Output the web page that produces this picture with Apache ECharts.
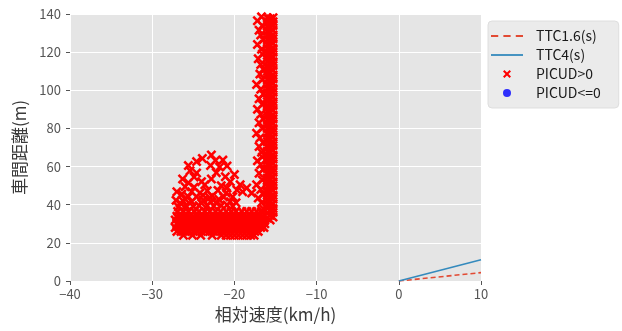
<!DOCTYPE html>
<html>
<head>
<meta charset="utf-8">
<script src="https://cdn.jsdelivr.net/npm/echarts@6/dist/echarts.min.js"></script>
<style>
  html, body { margin: 0; padding: 0; background: #fff; }
  #chart { width: 622px; height: 331px; }
</style>
</head>
<body>
<div id="chart"></div>
<script>
// Axis ticks
const xTicks = [-40, -30, -20, -10, 0, 10];
const yTicks = [0, 20, 40, 60, 80, 100, 120, 140];

// Time-to-collision reference lines: [relative speed km/h, distance m]
const ttc16 = [[0, 0], [10, 4.4]];
const ttc4 = [[0, 0], [10, 11.1]];

// PICUD>0 samples: vertical stem, one column per relative speed
const stemCols = [
  [-15.3, [33.5, 36, 38, 40.5, 43, 45, 47.5, 50, 52, 54.5, 57, 59, 61.5, 64, 66, 68.5, 71, 73, 75.5, 78, 80, 82.5, 85, 87, 89.5, 92, 94, 96.5, 99, 101, 103.5, 106, 108, 110.5, 113, 115, 117.5, 120, 122, 124.5, 127, 129, 131.5, 134, 136, 138]],
  [-15.65, [32, 34.5, 37, 39.5, 41.5, 44, 46.5, 49, 51, 53.5, 56, 58, 60.5, 63, 65, 67.5, 70, 72, 74.5, 77, 79, 81.5, 84, 86, 88.5, 91, 93, 95.5, 98, 100, 102.5, 105, 107, 109.5, 112, 114, 116.5, 119, 121, 123.5, 126, 128, 130.5, 133, 135, 137.5]],
  [-16.0, [33, 35.5, 38, 40, 42.5, 45, 47, 49.5, 52, 54, 56.5, 59, 61, 63.5, 66, 68, 70.5, 73, 75, 77.5, 80, 82, 84.5, 87, 89, 91.5, 94, 96, 98.5, 101, 103, 105.5, 108, 110, 112.5, 115, 117, 119.5, 122, 124, 126.5, 129, 131, 133.5, 136, 138]]
];

// Ragged left edge of the stem
const stemEdge = [
  [-16.5, 38], [-16.7, 41], [-17.1, 43.5], [-16.5, 45.5], [-16.8, 48], [-17.3, 50.5], [-16.6, 53], [-17.0, 56.5],
  [-16.5, 58.5], [-16.8, 61], [-17.2, 63], [-16.6, 65], [-16.7, 67.5], [-17.0, 70.5], [-16.5, 72.5], [-16.9, 75],
  [-17.3, 77.5], [-16.6, 80], [-17.0, 83], [-16.5, 85], [-16.8, 87.5], [-17.2, 90], [-16.6, 92.5], [-17.0, 95.5],
  [-16.5, 98], [-16.8, 100.5], [-17.3, 103], [-16.6, 105.5], [-16.9, 108.5], [-16.5, 111], [-16.8, 113.5],
  [-17.1, 116.5], [-16.6, 119], [-16.7, 121.5], [-17.2, 124], [-16.5, 126.5], [-16.8, 129], [-17.0, 131.5],
  [-16.6, 134], [-17.2, 136.5], [-16.7, 138.5]
];

// Low-distance band, one row per distance
const baseRows = [
  [24, [-26.2, -25.1, -24.1, -22.7, -21.6, -21.0, -20.5, -20.0, -19.5, -19.0, -18.5, -18.0, -17.6]],
  [26, [-27.0, -26.5, -26.0, -25.5, -25.0, -24.5, -24.0, -23.5, -23.0, -22.5, -22.0, -21.5, -21.0, -20.5, -20.0, -19.5, -19.0, -18.5, -18.0, -17.5, -17.1]],
  [28, [-27.2, -26.7, -26.2, -25.7, -25.2, -24.7, -24.2, -23.7, -23.2, -22.7, -22.2, -21.7, -21.2, -20.7, -20.2, -19.7, -19.2, -18.7, -18.2, -17.7, -17.2, -16.8, -16.4]],
  [30, [-27.0, -26.5, -26.0, -25.5, -25.0, -24.5, -24.0, -23.5, -23.0, -22.5, -22.0, -21.5, -21.0, -20.5, -20.0, -19.5, -19.0, -18.5, -18.0, -17.5, -17.1, -16.7, -16.3]],
  [32, [-27.2, -26.7, -26.2, -25.7, -25.2, -24.7, -24.2, -23.7, -23.2, -22.7, -22.2, -21.7, -21.2, -20.7, -20.2, -19.7, -19.2, -18.7, -18.2, -17.7, -17.2, -16.7, -16.3]],
  [34, [-27.0, -26.5, -26.0, -25.5, -25.0, -24.5, -24.0, -23.5, -23.0, -22.5, -22.0, -21.5, -21.0, -20.5, -20.0, -19.5, -19.0, -18.5, -18.0, -17.5, -17.0, -16.6]],
  [36.5, [-26.9, -26.2, -25.6, -24.9, -24.3, -23.6, -23.0, -22.3, -21.7, -21.0, -20.4, -19.8, -19.1, -18.5, -17.9, -17.3, -16.7]]
];

// Scattered samples above the band
const clusterPts = [
  [-24.6, 62.6], [-22.8, 66.1], [-22.3, 63.2], [-21.4, 63.4], [-21.8, 59.8], [-20.9, 60.3], [-25.4, 57.8],
  [-24.6, 56.6], [-26.3, 53.5], [-24.0, 52.1], [-22.8, 53.5], [-21.1, 54.7], [-20.5, 52.1], [-26.0, 49.4],
  [-27.0, 46.8], [-26.4, 45.6], [-25.2, 46.8], [-24.2, 46.1], [-23.3, 47.3], [-22.7, 44.6], [-24.6, 44.2],
  [-20.9, 48.8], [-19.7, 47.7], [-20.2, 44.2], [-19.0, 46.8], [-18.5, 48.8], [-17.9, 46.1], [-19.8, 41.0],
  [-20.5, 41.6], [-20.9, 39.9], [-22.2, 40.9], [-23.8, 42.5], [-25.2, 41.6], [-26.6, 40.9], [-26.8, 38.8],
  [-25.9, 39.5], [-25.0, 39], [-24.3, 39.5], [-23.3, 39.5], [-22.5, 39.2], [-21.6, 39.5], [-20.2, 39.2],
  [-25.6, 60.5], [-23.6, 50.5], [-26.0, 43], [-25.6, 51.5], [-24.9, 54.5], [-22.2, 56.8], [-21.6, 50],
  [-22.0, 47.5], [-21.3, 44], [-23.0, 43.8], [-24.9, 49.2], [-27.1, 42.3], [-20.0, 55.8], [-19.3, 50.5],
  [-23.9, 64.2], [-22.9, 60.6], [-26.2, 41.8], [-24.0, 40.8], [-22.9, 41.5], [-21.9, 42.8], [-21.0, 46.2],
  [-25.6, 44.2], [-23.8, 45]
];

// PICUD<=0 samples (none in this run)
const safePts = [];

const picudPos = [];
stemCols.forEach(([x, ys]) => ys.forEach(y => picudPos.push([x, y])));
stemEdge.forEach(p => picudPos.push(p));
baseRows.forEach(([y, xs]) => xs.forEach(x => picudPos.push([x, y])));
clusterPts.forEach(p => picudPos.push(p));

// Marker and legend glyphs
const crossPath = 'path://M0,1.8L1.8,0L5,3.2L8.2,0L10,1.8L6.8,5L10,8.2L8.2,10L5,6.8L1.8,10L0,8.2L3.2,5Z';
const solidLineIcon = 'path://M0,0h32v1.8h-32z';
const dashedLineIcon = 'path://M0,0h7v1.8h-7zM12,0h7v1.8h-7zM24,0h7v1.8h-7z';
const fontFam = '"Noto Sans CJK JP", "Noto Sans", sans-serif';
const minus = v => (v < 0 ? '\u2212' + Math.abs(v) : String(v));

const chart = echarts.init(document.getElementById('chart'), null, { renderer: 'canvas' });
chart.setOption({
  backgroundColor: '#ffffff',
  animation: false,
  textStyle: { fontFamily: fontFam },
  grid: { left: 70, top: 14, width: 411, height: 267, show: true, backgroundColor: '#e5e5e5', borderWidth: 0 },
  legend: {
    orient: 'vertical',
    left: 488,
    top: 21,
    padding: [8, 18, 8, 3],
    backgroundColor: '#ebebeb',
    borderColor: '#dedede',
    borderWidth: 1,
    borderRadius: 4,
    itemWidth: 32,
    itemHeight: 8,
    itemGap: 5,
    textStyle: { fontFamily: fontFam, fontSize: 14, color: '#1a1a1a', padding: [0, 0, 0, 8] },
    data: [
      { name: 'TTC1.6(s)', icon: dashedLineIcon },
      { name: 'TTC4(s)', icon: solidLineIcon },
      { name: 'PICUD>0' },
      { name: 'PICUD<=0' }
    ]
  },
  xAxis: {
    type: 'value', min: -40, max: 10, interval: 10,
    name: '相対速度(km/h)', nameLocation: 'middle', nameGap: 19,
    nameTextStyle: { fontFamily: fontFam, fontSize: 17, color: '#3a3a3a' },
    axisLine: { show: false, onZero: false },
    axisTick: { show: true, length: 4, lineStyle: { color: '#555', width: 1 } },
    axisLabel: { color: '#555', fontSize: 13, margin: 7, formatter: v => (xTicks.includes(v) ? minus(v) : '') },
    splitLine: { show: true, lineStyle: { color: '#ffffff', width: 1 } }
  },
  yAxis: {
    type: 'value', min: 0, max: 140, interval: 20,
    name: '車間距離(m)', nameLocation: 'middle', nameGap: 40,
    nameTextStyle: { fontFamily: fontFam, fontSize: 17, color: '#3a3a3a' },
    axisLine: { show: false, onZero: false },
    axisTick: { show: true, length: 4, lineStyle: { color: '#555', width: 1 } },
    axisLabel: { color: '#555', fontSize: 13, margin: 9, formatter: v => (yTicks.includes(v) ? String(v) : '') },
    splitLine: { show: true, lineStyle: { color: '#ffffff', width: 1 } }
  },
  series: [
    {
      name: 'TTC1.6(s)', type: 'line', data: ttc16, symbol: 'none', z: 2,
      lineStyle: { color: '#E24A33', width: 1.6, type: [5, 3] },
      itemStyle: { color: '#E24A33' }
    },
    {
      name: 'TTC4(s)', type: 'line', data: ttc4, symbol: 'none', z: 2,
      lineStyle: { color: '#348ABD', width: 1.6 },
      itemStyle: { color: '#348ABD' }
    },
    {
      name: 'PICUD>0', type: 'scatter', data: picudPos, symbol: crossPath, symbolSize: 10, z: 3,
      itemStyle: { color: '#ff0000', opacity: 1 }
    },
    {
      name: 'PICUD<=0', type: 'scatter', data: safePts, symbol: 'circle', symbolSize: 7, z: 3,
      itemStyle: { color: '#0000ff' }
    }
  ]
});
</script>
</body>
</html>
